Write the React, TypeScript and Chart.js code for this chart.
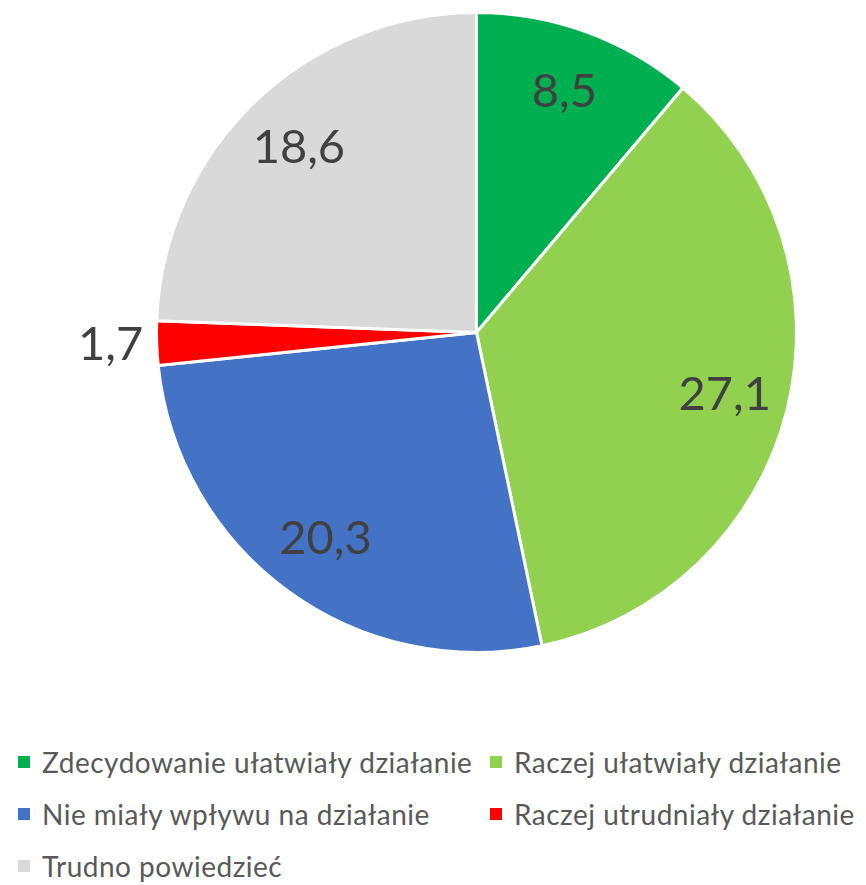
import React, { useEffect, useRef } from "react";
import { Chart, registerables } from "chart.js";

Chart.register(...registerables);

const categories = [
  "Zdecydowanie ułatwiały działanie",
  "Raczej ułatwiały działanie",
  "Nie miały wpływu na działanie",
  "Raczej utrudniały działanie",
  "Trudno powiedzieć",
];
const values = [8.5, 27.1, 20.3, 1.7, 18.6];
const valueLabels = ["8,5", "27,1", "20,3", "1,7", "18,6"];
const colors = ["#00B050", "#92D050", "#4472C4", "#FF0000", "#D9D9D9"];

const FONT = "Lato, 'Open Sans', sans-serif";

const labelPlugin = {
  id: "sliceLabels",
  afterDatasetsDraw(chart: any) {
    const ctx = chart.ctx;
    const meta = chart.getDatasetMeta(0);
    ctx.save();
    ctx.font = `47px ${FONT}`;
    ctx.fillStyle = "#404040";
    ctx.textAlign = "center";
    ctx.textBaseline = "middle";
    meta.data.forEach((arc: any, i: number) => {
      const { x, y, startAngle, endAngle, outerRadius } = arc.getProps(
        ["x", "y", "startAngle", "endAngle", "outerRadius"],
        true
      );
      const mid = (startAngle + endAngle) / 2;
      const span = endAngle - startAngle;
      const r = span < 0.3 ? outerRadius + 46 : outerRadius * 0.8;
      const lx = x + Math.cos(mid) * r;
      const ly = y + Math.sin(mid) * r;
      ctx.fillText(valueLabels[i], lx, ly);
    });
    ctx.restore();
  },
};

export default function App() {
  const canvasRef = useRef<HTMLCanvasElement | null>(null);

  useEffect(() => {
    if (!canvasRef.current) return;
    const chart = new Chart(canvasRef.current, {
      type: "pie",
      data: {
        labels: categories,
        datasets: [
          {
            data: values,
            backgroundColor: colors,
            borderColor: "#FFFFFF",
            borderWidth: 3,
            hoverBorderWidth: 3,
          },
        ],
      },
      options: {
        animation: false,
        responsive: false,
        layout: { padding: { left: 155, right: 68, top: 11, bottom: 0 } },
        plugins: {
          legend: { display: false },
          tooltip: { enabled: false },
        },
      },
      plugins: [labelPlugin],
    });
    return () => chart.destroy();
  }, []);

  return (
    <div
      style={{
        position: "absolute",
        left: 0,
        top: 0,
        width: 866,
        height: 885,
        background: "#fff",
        overflow: "hidden",
      }}
    >
      <canvas ref={canvasRef} width={866} height={654} style={{ display: "block" }} />
      <div
        style={{
          position: "absolute",
          left: 18,
          top: 736,
          display: "grid",
          gridTemplateColumns: "472px auto",
          gridAutoRows: "52px",
          fontFamily: FONT,
          fontSize: 28,
          letterSpacing: 0.5,
          color: "#595959",
        }}
      >
        {categories.map((c, i) => (
          <div key={c} style={{ display: "flex", alignItems: "center", whiteSpace: "nowrap" }}>
            <span
              style={{
                display: "inline-block",
                width: 12,
                height: 12,
                background: colors[i],
                marginRight: 12,
              }}
            />
            <span>{c}</span>
          </div>
        ))}
      </div>
    </div>
  );
}
